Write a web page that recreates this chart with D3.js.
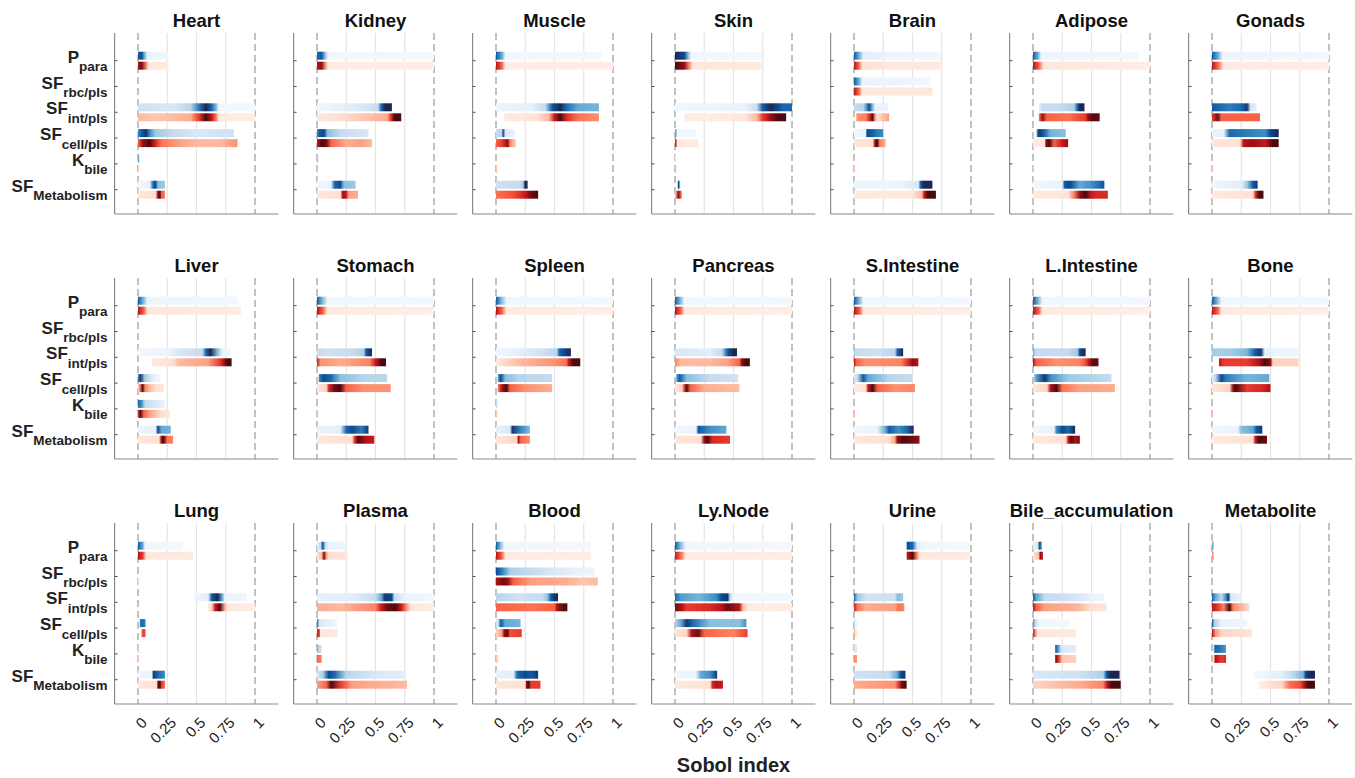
<!DOCTYPE html>
<html>
<head>
<meta charset="utf-8">
<script src="https://cdn.jsdelivr.net/npm/d3@7"></script>
<style>
  body { margin: 0; background: #fff; }
  text { font-family: "Liberation Sans", Arial, Helvetica, sans-serif; }
</style>
</head>
<body>
<svg id="fig" width="1355" height="778"></svg>
<script>
// ---- Parameters (y categories) and x ticks ----
const paramMain = ["P", "SF", "SF", "SF", "K", "SF"];
const paramSub = ["para", "rbc/pls", "int/pls", "cell/pls", "bile", "Metabolism"];
const xTicks = [0, 0.25, 0.5, 0.75, 1];
const xTickLabels = ["0", "0.25", "0.5", "0.75", "1"];

// ---- Sobol index distributions per compartment ----
// Each strip is a list of [sobol index, relative density] stops; null = no strip.
// S1 = first-order (blue), ST = total-order (red); order follows paramSub.
const Heart_S1 = [
  [[0,.8],[0.03,.9],[0.06,.5],[0.08,.1],[0.26,.05]],
  null,
  [[0,.25],[0.3,.2],[0.45,.35],[0.52,.75],[0.58,1],[0.63,.8],[0.67,.5],[0.69,.05],[1,.03]],
  [[0,.7],[0.03,.85],[0.07,.95],[0.1,.7],[0.15,.45],[0.3,.3],[0.5,.2],[0.82,.25]],
  [[0,.6],[0.01,.6]],
  [[0,.05],[0.1,.1],[0.13,.8],[0.15,.9],[0.17,.5],[0.23,.45]]
];
const Heart_ST = [
  [[0,.85],[0.03,.95],[0.07,.5],[0.09,.1],[0.26,.08]],
  null,
  [[0,.3],[0.15,.25],[0.3,.3],[0.45,.35],[0.52,.7],[0.58,1],[0.63,.8],[0.67,.5],[0.69,.08],[1,.06]],
  [[0,.6],[0.04,.9],[0.1,1],[0.14,.8],[0.2,.55],[0.35,.4],[0.5,.3],[0.7,.3],[0.85,.45]],
  [[0,.2],[0.01,.2]],
  [[0,.1],[0.15,.15],[0.17,.9],[0.19,1],[0.2,.6],[0.23,.55]]
];
const Kidney_S1 = [
  [[0,.8],[0.04,.85],[0.08,.3],[0.1,.05],[1,.04]],
  null,
  [[0,.06],[0.2,.12],[0.4,.2],[0.52,.3],[0.55,.8],[0.58,1],[0.64,1]],
  [[0,.7],[0.02,.85],[0.06,.9],[0.09,.5],[0.2,.3],[0.44,.2]],
  [[0,.4],[0.01,.4]],
  [[0,.05],[0.12,.1],[0.15,.8],[0.2,.9],[0.23,.5],[0.33,.45]]
];
const Kidney_ST = [
  [[0,.85],[0.04,.9],[0.08,.3],[0.1,.06],[1,.06]],
  null,
  [[0,.1],[0.2,.15],[0.4,.25],[0.6,.35],[0.63,.7],[0.66,1],[0.72,1]],
  [[0,.8],[0.04,1],[0.08,.95],[0.12,.6],[0.25,.35],[0.38,.4],[0.47,.3]],
  [[0,.25],[0.01,.25]],
  [[0,.1],[0.2,.15],[0.22,.9],[0.25,.8],[0.27,.4],[0.35,.35]]
];
const Muscle_S1 = [
  [[0,.85],[0.05,.6],[0.08,.05],[0.9,.04]],
  null,
  [[0,.08],[0.3,.12],[0.42,.3],[0.48,.85],[0.55,1],[0.6,.8],[0.7,.6],[0.88,.55]],
  [[0,.3],[0.05,.35],[0.06,.95],[0.08,.2],[0.16,.1]],
  null,
  [[0,.25],[0.2,.3],[0.23,.4],[0.25,1],[0.27,1]]
];
const Muscle_ST = [
  [[0,.85],[0.05,.6],[0.08,.05],[0.5,.06],[1,.05]],
  null,
  [[0.07,.08],[0.35,.12],[0.45,.3],[0.5,.8],[0.55,1],[0.6,.75],[0.7,.55],[0.88,.45]],
  [[0,.6],[0.05,.7],[0.1,.9],[0.12,.5],[0.17,.2]],
  [[0,.25],[0.008,.25]],
  [[0,.55],[0.15,.65],[0.25,.8],[0.3,.95],[0.36,1]]
];
const Skin_S1 = [
  [[0,1],[0.08,.9],[0.12,.4],[0.14,.05],[0.74,.04]],
  null,
  [[0,.05],[0.6,.1],[0.7,.3],[0.75,.85],[0.82,1],[0.88,.9],[0.92,.8],[1,.8]],
  [[0,.7],[0.01,.5],[0.02,.05],[0.18,.05]],
  [[0,.15],[0.008,.15]],
  [[0.02,.3],[0.03,.9],[0.045,.3]]
];
const Skin_ST = [
  [[0,1],[0.08,.9],[0.12,.5],[0.15,.1],[0.74,.08]],
  null,
  [[0.08,.05],[0.6,.1],[0.7,.3],[0.75,.7],[0.82,.9],[0.88,1],[0.95,1]],
  [[0,.8],[0.01,.7],[0.02,.08],[0.2,.08]],
  [[0,.3],[0.008,.3]],
  [[0,.2],[0.03,.9],[0.05,.6],[0.06,.3]]
];
const Brain_S1 = [
  [[0,.85],[0.04,.6],[0.08,.15],[0.3,.08],[0.74,.05]],
  [[0,.85],[0.04,.6],[0.07,.1],[0.65,.05]],
  [[0,.3],[0.08,.35],[0.1,.6],[0.13,.9],[0.16,.5],[0.18,.1],[0.29,.1]],
  [[0,.05],[0.1,.1],[0.11,.9],[0.15,.85],[0.2,.75],[0.25,.7]],
  null,
  [[0,.08],[0.4,.08],[0.55,.2],[0.57,.85],[0.6,1],[0.67,1]]
];
const Brain_ST = [
  [[0,.85],[0.04,.6],[0.07,.15],[0.3,.1],[0.75,.08]],
  [[0,.85],[0.04,.6],[0.07,.1],[0.6,.1],[0.67,.12]],
  [[0.02,.45],[0.1,.5],[0.14,.8],[0.16,1],[0.18,.4],[0.2,.15],[0.3,.4]],
  [[0,.1],[0.16,.15],[0.18,.9],[0.2,1],[0.22,.5],[0.27,.35]],
  [[0,.2],[0.008,.2]],
  [[0,.08],[0.5,.1],[0.58,.3],[0.6,.8],[0.63,1],[0.7,1]]
];
const Adipose_S1 = [
  [[0,.85],[0.04,.6],[0.07,.08],[0.9,.04]],
  null,
  [[0.05,.1],[0.08,.3],[0.25,.3],[0.35,.4],[0.38,.8],[0.4,1],[0.44,1]],
  [[0.03,.6],[0.05,.95],[0.1,.8],[0.15,.55],[0.28,.5]],
  null,
  [[0,.06],[0.25,.1],[0.27,.85],[0.32,.9],[0.4,.6],[0.5,.7],[0.6,.85],[0.61,.85]]
];
const Adipose_ST = [
  [[0,.85],[0.05,.6],[0.09,.1],[1,.06]],
  null,
  [[0.05,.5],[0.08,.9],[0.12,.6],[0.3,.55],[0.45,.7],[0.47,.9],[0.52,1],[0.57,.95]],
  [[0,.08],[0.1,.1],[0.11,.9],[0.14,1],[0.18,.6],[0.25,.8],[0.3,.9]],
  [[0,.2],[0.008,.2]],
  [[0,.08],[0.3,.12],[0.35,.5],[0.4,.9],[0.45,1],[0.5,.8],[0.55,.75],[0.64,.75]]
];
const Gonads_S1 = [
  [[0,.85],[0.05,.6],[0.09,.08],[1,.04]],
  null,
  [[0,.85],[0.15,.75],[0.25,.8],[0.3,.95],[0.33,.2],[0.38,.15]],
  [[0,.08],[0.1,.1],[0.15,.8],[0.3,.75],[0.45,.7],[0.5,.9],[0.57,1]],
  null,
  [[0,.06],[0.25,.15],[0.3,.45],[0.35,.85],[0.39,.95]]
];
const Gonads_ST = [
  [[0,.85],[0.05,.6],[0.1,.08],[1,.05]],
  null,
  [[0,.7],[0.05,.95],[0.08,.6],[0.41,.6]],
  [[0,.1],[0.24,.15],[0.27,.85],[0.35,.9],[0.45,.8],[0.52,1],[0.57,1]],
  [[0,.2],[0.008,.2]],
  [[0,.08],[0.35,.15],[0.37,.7],[0.4,1],[0.44,1]]
];
const Liver_S1 = [
  [[0,.85],[0.05,.5],[0.08,.08],[0.85,.04]],
  null,
  [[0,.03],[0.25,.08],[0.35,.2],[0.55,.3],[0.58,.8],[0.62,1],[0.68,.5],[0.72,.1],[0.79,.05]],
  [[0,.7],[0.02,.95],[0.06,.4],[0.14,.1],[0.19,.05]],
  [[0,.8],[0.03,.7],[0.06,.3],[0.23,.08]],
  [[0,.08],[0.15,.12],[0.17,.9],[0.2,.6],[0.28,.55]]
];
const Liver_ST = [
  [[0,.85],[0.05,.6],[0.08,.1],[0.88,.07]],
  null,
  [[0.12,.08],[0.3,.15],[0.35,.3],[0.6,.4],[0.7,.7],[0.74,.9],[0.76,1],[0.8,1]],
  [[0,.1],[0.02,.6],[0.04,1],[0.06,.5],[0.1,.3],[0.15,.15],[0.22,.1]],
  [[0,.7],[0.02,1],[0.05,.6],[0.1,.4],[0.2,.15],[0.27,.1]],
  [[0,.1],[0.18,.15],[0.2,.9],[0.22,1],[0.25,.55],[0.3,.5]]
];
const Stomach_S1 = [
  [[0,.85],[0.05,.5],[0.09,.06],[1,.04]],
  null,
  [[0,.3],[0.1,.25],[0.3,.3],[0.4,.4],[0.42,.85],[0.47,1]],
  [[0.015,.7],[0.05,.9],[0.12,.8],[0.2,.5],[0.4,.35],[0.6,.35]],
  null,
  [[0,.08],[0.2,.15],[0.25,.8],[0.3,.9],[0.38,.75],[0.44,.95]]
];
const Stomach_ST = [
  [[0,.85],[0.05,.6],[0.09,.08],[1,.05]],
  null,
  [[0,.8],[0.03,.45],[0.2,.35],[0.45,.5],[0.5,.8],[0.55,1],[0.59,1]],
  [[0,.1],[0.08,.2],[0.1,.75],[0.15,.95],[0.2,1],[0.25,.6],[0.4,.45],[0.63,.45]],
  [[0,.25],[0.008,.25]],
  [[0,.1],[0.3,.15],[0.32,.7],[0.35,1],[0.42,.85],[0.49,.8]]
];
const Spleen_S1 = [
  [[0,.85],[0.05,.5],[0.09,.06],[1,.04]],
  null,
  [[0,.05],[0.2,.15],[0.4,.25],[0.52,.35],[0.54,.8],[0.58,.9],[0.64,1]],
  [[0.015,.6],[0.04,.9],[0.08,.5],[0.2,.35],[0.48,.3]],
  [[0,.3],[0.006,.3]],
  [[0,.1],[0.12,.2],[0.14,.95],[0.2,.75],[0.29,.5]]
];
const Spleen_ST = [
  [[0,.85],[0.05,.6],[0.09,.08],[1,.05]],
  null,
  [[0,.08],[0.2,.3],[0.5,.45],[0.6,.55],[0.62,.8],[0.66,1],[0.72,1]],
  [[0.015,.5],[0.05,.85],[0.09,1],[0.12,.6],[0.25,.45],[0.48,.35]],
  [[0,.25],[0.006,.25]],
  [[0,.1],[0.18,.2],[0.19,.9],[0.21,.6],[0.29,.45]]
];
const Pancreas_S1 = [
  [[0,.85],[0.05,.5],[0.08,.06],[1,.04]],
  null,
  [[0,.2],[0.3,.15],[0.4,.3],[0.45,.85],[0.5,1],[0.53,1]],
  [[0.01,.6],[0.04,.85],[0.1,.5],[0.3,.3],[0.54,.25]],
  null,
  [[0,.05],[0.18,.1],[0.2,.85],[0.3,.7],[0.44,.6]]
];
const Pancreas_ST = [
  [[0,.85],[0.05,.6],[0.08,.08],[1,.05]],
  null,
  [[0,.5],[0.05,.3],[0.3,.3],[0.45,.4],[0.55,.6],[0.57,.9],[0.6,1],[0.64,1]],
  [[0,.1],[0.06,.2],[0.08,.7],[0.1,1],[0.13,.6],[0.25,.35],[0.55,.3]],
  [[0,.2],[0.006,.2]],
  [[0,.1],[0.22,.15],[0.25,.9],[0.28,1],[0.32,.75],[0.47,.7]]
];
const SIntestine_S1 = [
  [[0,.85],[0.05,.5],[0.08,.06],[1,.04]],
  null,
  [[0,.5],[0.01,.3],[0.2,.25],[0.35,.35],[0.37,.8],[0.42,1]],
  [[0,.2],[0.03,.3],[0.08,.85],[0.12,.6],[0.3,.35],[0.5,.3]],
  null,
  [[0,.05],[0.2,.1],[0.27,.6],[0.3,.85],[0.38,.7],[0.45,.8],[0.51,1]]
];
const SIntestine_ST = [
  [[0,.85],[0.05,.6],[0.08,.08],[1,.05]],
  null,
  [[0,.85],[0.02,.6],[0.1,.45],[0.4,.5],[0.45,.7],[0.5,.9],[0.55,.85]],
  [[0,.08],[0.1,.15],[0.12,.8],[0.16,1],[0.2,.6],[0.35,.45],[0.52,.5]],
  [[0,.25],[0.006,.25]],
  [[0,.1],[0.3,.15],[0.35,.4],[0.37,.9],[0.42,1],[0.5,.95],[0.56,.9]]
];
const LIntestine_S1 = [
  [[0,.85],[0.05,.5],[0.08,.06],[1,.04]],
  null,
  [[0,.6],[0.02,.3],[0.3,.3],[0.38,.45],[0.4,.9],[0.45,1]],
  [[0.01,.5],[0.04,.7],[0.1,.95],[0.15,.7],[0.3,.45],[0.55,.35],[0.67,.3]],
  null,
  [[0,.06],[0.18,.1],[0.2,.7],[0.25,.9],[0.3,.8],[0.36,1]]
];
const LIntestine_ST = [
  [[0,.85],[0.05,.6],[0.08,.08],[1,.05]],
  null,
  [[0,.85],[0.03,.6],[0.2,.45],[0.4,.5],[0.45,.65],[0.48,.85],[0.52,1],[0.56,.95]],
  [[0,.1],[0.12,.2],[0.15,.85],[0.2,1],[0.25,.55],[0.4,.4],[0.7,.35]],
  [[0,.25],[0.006,.25]],
  [[0,.08],[0.28,.15],[0.3,.8],[0.33,1],[0.36,.85],[0.4,.95]]
];
const Bone_S1 = [
  [[0,.85],[0.05,.5],[0.08,.06],[1,.04]],
  null,
  [[0,.45],[0.05,.4],[0.2,.45],[0.3,.55],[0.37,.85],[0.42,.95],[0.45,.15],[0.55,.08],[0.74,.08]],
  [[0,.1],[0.03,.35],[0.08,.9],[0.12,.75],[0.3,.55],[0.49,.6]],
  null,
  [[0,.05],[0.22,.1],[0.25,.5],[0.35,.6],[0.38,.85],[0.43,.95]]
];
const Bone_ST = [
  [[0,.85],[0.05,.6],[0.08,.08],[1,.05]],
  null,
  [[0.06,.85],[0.1,.7],[0.3,.7],[0.4,.85],[0.45,1],[0.5,.9],[0.52,.2],[0.74,.2]],
  [[0,.1],[0.15,.2],[0.18,.9],[0.2,1],[0.3,.7],[0.42,.75],[0.5,.85]],
  [[0,.25],[0.006,.25]],
  [[0,.08],[0.35,.15],[0.37,.8],[0.4,1],[0.47,.95]]
];
const Lung_S1 = [
  [[0,.85],[0.04,.6],[0.06,.05],[0.38,.04]],
  null,
  [[0.48,.05],[0.6,.15],[0.63,.85],[0.68,1],[0.72,.6],[0.74,.1],[0.93,.05]],
  [[0.015,.75],[0.04,.8],[0.065,.7]],
  [[0,.3],[0.006,.3]],
  [[0,.05],[0.12,.1],[0.13,.95],[0.17,.8],[0.23,.7]]
];
const Lung_ST = [
  [[0,.85],[0.04,.7],[0.07,.1],[0.47,.08]],
  [[0,.15],[0.006,.15]],
  [[0.6,.08],[0.63,.2],[0.66,.8],[0.7,1],[0.74,.4],[0.76,.1],[1,.05]],
  [[0.03,.6],[0.05,.7],[0.065,.6]],
  [[0,.2],[0.006,.2]],
  [[0,.1],[0.16,.15],[0.17,.95],[0.19,1],[0.2,.7],[0.23,.6]]
];
const Plasma_S1 = [
  [[0,.1],[0.03,.3],[0.05,.9],[0.07,.3],[0.1,.1],[0.26,.08]],
  null,
  [[0,.12],[0.3,.15],[0.5,.3],[0.55,.6],[0.58,.95],[0.64,.9],[0.66,.3],[0.75,.1],[1,.05]],
  [[0,.85],[0.02,.2],[0.17,.05]],
  [[0,.6],[0.01,.4],[0.04,.2]],
  [[0,.2],[0.05,.4],[0.1,.9],[0.15,.8],[0.25,.35],[0.5,.2],[0.75,.15]]
];
const Plasma_ST = [
  [[0,.1],[0.04,.3],[0.06,.95],[0.08,.4],[0.1,.15],[0.26,.1]],
  null,
  [[0,.35],[0.2,.3],[0.5,.5],[0.55,.8],[0.6,.95],[0.67,1],[0.72,.8],[0.76,.5],[0.8,.1],[1,.06]],
  [[0,.8],[0.02,.7],[0.03,.1],[0.18,.08]],
  [[0,.6],[0.04,.5]],
  [[0,.4],[0.08,.6],[0.12,1],[0.2,.7],[0.3,.4],[0.5,.35],[0.77,.3]]
];
const Blood_S1 = [
  [[0,.85],[0.04,.5],[0.07,.05],[0.81,.04]],
  [[0,.9],[0.05,.75],[0.12,.4],[0.3,.3],[0.5,.2],[0.7,.1],[0.84,.1]],
  [[0,.35],[0.2,.25],[0.4,.3],[0.44,.5],[0.47,.85],[0.5,.95],[0.53,1]],
  [[0,.2],[0.02,.3],[0.04,.85],[0.08,.6],[0.21,.55]],
  [[0,.2],[0.01,.2]],
  [[0,.1],[0.15,.15],[0.18,.8],[0.25,.9],[0.3,.85],[0.36,.95]]
];
const Blood_ST = [
  [[0,.85],[0.05,.6],[0.08,.08],[0.81,.06]],
  [[0,.85],[0.06,.95],[0.1,.9],[0.15,.6],[0.3,.4],[0.6,.35],[0.75,.25],[0.87,.3]],
  [[0,.6],[0.3,.55],[0.5,.6],[0.52,.85],[0.56,.95],[0.6,1],[0.61,1]],
  [[0,.2],[0.05,.4],[0.07,.9],[0.1,.95],[0.12,.65],[0.22,.7]],
  [[0,.25],[0.015,.25]],
  [[0,.1],[0.25,.15],[0.26,.9],[0.28,1],[0.3,.7],[0.38,.7]]
];
const LyNode_S1 = [
  [[0,.85],[0.05,.5],[0.09,.06],[0.3,.05],[1,.04]],
  null,
  [[0,.8],[0.05,.65],[0.2,.55],[0.35,.7],[0.4,.9],[0.45,.95],[0.47,.3],[0.5,.05],[1,.04]],
  [[0,.35],[0.05,.6],[0.1,.95],[0.15,.8],[0.3,.5],[0.55,.5],[0.61,.7]],
  [[0,.3],[0.006,.3]],
  [[0,.05],[0.18,.1],[0.22,.6],[0.3,.7],[0.36,.95]]
];
const LyNode_ST = [
  [[0,.8],[0.06,.5],[0.09,.08],[1,.06]],
  null,
  [[0,.95],[0.06,.85],[0.1,.7],[0.3,.75],[0.4,.85],[0.45,.95],[0.55,.85],[0.58,.3],[0.62,.08],[1,.06]],
  [[0,.1],[0.1,.2],[0.14,.85],[0.2,.95],[0.25,.6],[0.5,.5],[0.62,.7]],
  [[0,.2],[0.006,.2]],
  [[0,.08],[0.3,.15],[0.32,.75],[0.35,.85],[0.41,.8]]
];
const Urine_S1 = [
  [[0.45,.9],[0.5,.8],[0.54,.15],[0.6,.05],[0.99,.04]],
  null,
  [[0,.8],[0.03,.45],[0.1,.25],[0.35,.25],[0.37,.5],[0.42,.45]],
  [[0,.4],[0.01,.1],[0.03,.05]],
  [[0,.2],[0.025,.2]],
  [[0,.25],[0.3,.3],[0.37,.6],[0.4,.9],[0.44,.95]]
];
const Urine_ST = [
  [[0.45,.8],[0.5,1],[0.53,.6],[0.56,.1],[0.99,.07]],
  null,
  [[0,.8],[0.03,.55],[0.1,.35],[0.35,.4],[0.38,.55],[0.43,.5]],
  [[0,.5],[0.01,.1],[0.03,.08]],
  [[0,.45],[0.025,.45]],
  [[0,.35],[0.35,.45],[0.38,.7],[0.41,.95],[0.45,1]]
];
const BileAcc_S1 = [
  [[0,.08],[0.04,.2],[0.055,.85],[0.075,.7]],
  null,
  [[0,.85],[0.03,.6],[0.1,.3],[0.3,.25],[0.4,.2],[0.5,.1],[0.61,.06]],
  [[0,.7],[0.02,.3],[0.05,.05],[0.31,.04]],
  [[0.19,.9],[0.22,.6],[0.24,.2],[0.37,.15]],
  [[0,.2],[0.4,.25],[0.6,.4],[0.63,.85],[0.66,1],[0.74,1]]
];
const BileAcc_ST = [
  [[0,.08],[0.05,.3],[0.06,.9],[0.085,.8]],
  null,
  [[0,.85],[0.03,.6],[0.1,.4],[0.3,.35],[0.4,.3],[0.5,.15],[0.63,.12]],
  [[0,.8],[0.02,.5],[0.04,.1],[0.37,.08]],
  [[0.19,1],[0.22,.7],[0.25,.25],[0.37,.2]],
  [[0,.2],[0.4,.35],[0.6,.5],[0.63,.8],[0.67,1],[0.75,1]]
];
const Metabolite_S1 = [
  [[0,.6],[0.015,.5]],
  null,
  [[0,.85],[0.03,.6],[0.08,.3],[0.12,.7],[0.14,.95],[0.16,.2],[0.25,.1]],
  [[0,.9],[0.02,.4],[0.08,.1],[0.3,.06]],
  [[0.015,.6],[0.03,.8],[0.08,.75],[0.12,.65]],
  [[0.35,.03],[0.6,.15],[0.7,.35],[0.78,.55],[0.8,.9],[0.84,1],[0.88,1]]
];
const Metabolite_ST = [
  [[0,.45],[0.015,.4]],
  null,
  [[0,.85],[0.05,.7],[0.1,.5],[0.15,1],[0.18,.5],[0.32,.15]],
  [[0,.85],[0.03,.45],[0.08,.2],[0.34,.12]],
  [[0.015,.35],[0.03,.85],[0.08,.7],[0.12,.75]],
  [[0.4,.05],[0.6,.2],[0.66,.55],[0.75,.65],[0.79,.85],[0.82,1],[0.88,1]]
];

const panels = [
  {name: "Heart", s1: Heart_S1, st: Heart_ST},
  {name: "Kidney", s1: Kidney_S1, st: Kidney_ST},
  {name: "Muscle", s1: Muscle_S1, st: Muscle_ST},
  {name: "Skin", s1: Skin_S1, st: Skin_ST},
  {name: "Brain", s1: Brain_S1, st: Brain_ST},
  {name: "Adipose", s1: Adipose_S1, st: Adipose_ST},
  {name: "Gonads", s1: Gonads_S1, st: Gonads_ST},
  {name: "Liver", s1: Liver_S1, st: Liver_ST},
  {name: "Stomach", s1: Stomach_S1, st: Stomach_ST},
  {name: "Spleen", s1: Spleen_S1, st: Spleen_ST},
  {name: "Pancreas", s1: Pancreas_S1, st: Pancreas_ST},
  {name: "S.Intestine", s1: SIntestine_S1, st: SIntestine_ST},
  {name: "L.Intestine", s1: LIntestine_S1, st: LIntestine_ST},
  {name: "Bone", s1: Bone_S1, st: Bone_ST},
  {name: "Lung", s1: Lung_S1, st: Lung_ST},
  {name: "Plasma", s1: Plasma_S1, st: Plasma_ST},
  {name: "Blood", s1: Blood_S1, st: Blood_ST},
  {name: "Ly.Node", s1: LyNode_S1, st: LyNode_ST},
  {name: "Urine", s1: Urine_S1, st: Urine_ST},
  {name: "Bile_accumulation", s1: BileAcc_S1, st: BileAcc_ST},
  {name: "Metabolite", s1: Metabolite_S1, st: Metabolite_ST}
];

// ---- Colour maps for density ----
const cmapStops = [0, 0.15, 0.3, 0.45, 0.58, 0.7, 0.8, 0.88, 1];
const blueMap = d3.scaleLinear().domain(cmapStops)
  .range(["#f7fbff", "#e3eef9", "#c6dbef", "#9ecae1", "#6baed6", "#3f8fc5", "#1a68ae", "#08519c", "#1c2553"])
  .interpolate(d3.interpolateRgb).clamp(true);
const redMap = d3.scaleLinear().domain(cmapStops)
  .range(["#fff5f0", "#fee0d2", "#fcbba1", "#fc9272", "#fb6a4a", "#e83a2f", "#c81a1d", "#a50f15", "#4a0a0f"])
  .interpolate(d3.interpolateRgb).clamp(true);

// ---- Layout ----
const nCols = 7;
const PW = 163.8, PH = 181;
const colLeft = c => 114.6 + 179 * c;
const rowTop = r => 33 + 245 * r;
const x = d3.scaleLinear().domain([-0.2, 1.2]).range([0, PW]);
const y = d3.scalePoint().domain(d3.range(paramSub.length)).range([27.7, 156.7]);
const barH = 8;

const svg = d3.select("#fig");
const defs = svg.append("defs");
const axisColor = "#8a8a8a";
const textColor = "#222";

panels.forEach((p, k) => {
  const r = Math.floor(k / nCols), c = k % nCols;
  const g = svg.append("g").attr("transform", `translate(${colLeft(c)},${rowTop(r)})`);

  // grid lines: dashed at 0 and 1, light solid in between
  g.selectAll("line.grid").data(xTicks).join("line")
    .attr("class", "grid")
    .attr("x1", d => x(d)).attr("x2", d => x(d))
    .attr("y1", 0).attr("y2", PH)
    .attr("stroke", d => (d === 0 || d === 1) ? "#a9a9a9" : "#e4e4e4")
    .attr("stroke-width", d => (d === 0 || d === 1) ? 1.4 : 1.2)
    .attr("stroke-dasharray", d => (d === 0 || d === 1) ? "7,4" : null);

  // density strips
  [["s1", blueMap, -barH - 1], ["st", redMap, 1]].forEach(([key, cmap, dy]) => {
    p[key].forEach((strip, i) => {
      if (!strip) return;
      const x0 = strip[0][0], x1 = strip[strip.length - 1][0];
      const id = `grad-${k}-${key}-${i}`;
      const grad = defs.append("linearGradient").attr("id", id)
        .attr("x1", "0%").attr("x2", "100%").attr("y1", "0%").attr("y2", "0%");
      grad.selectAll("stop").data(strip).join("stop")
        .attr("offset", d => x1 > x0 ? (d[0] - x0) / (x1 - x0) : 0)
        .attr("stop-color", d => cmap(d[1]));
      g.append("rect")
        .attr("x", x(x0))
        .attr("y", y(i) + dy)
        .attr("width", Math.max(x(x1) - x(x0), 1.2))
        .attr("height", barH)
        .attr("fill", `url(#${id})`);
    });
  });

  // axes lines
  g.append("line").attr("x1", 0).attr("x2", 0).attr("y1", 0).attr("y2", PH)
    .attr("stroke", axisColor).attr("stroke-width", 1.2);
  g.append("line").attr("x1", 0).attr("x2", PW).attr("y1", PH).attr("y2", PH)
    .attr("stroke", axisColor).attr("stroke-width", 1.2);
  // y ticks (inward)
  g.selectAll("line.yt").data(d3.range(paramSub.length)).join("line")
    .attr("class", "yt")
    .attr("x1", 0).attr("x2", 3).attr("y1", d => y(d)).attr("y2", d => y(d))
    .attr("stroke", "#555").attr("stroke-width", 1);

  // title
  g.append("text")
    .attr("x", x(0.5)).attr("y", -6)
    .attr("text-anchor", "middle")
    .attr("font-size", 18.5).attr("font-weight", "bold")
    .attr("fill", "#111")
    .text(p.name);

  // parameter labels on the first column
  if (c === 0) {
    paramSub.forEach((sub, i) => {
      const t = g.append("text")
        .attr("x", -7).attr("y", y(i) + 2)
        .attr("text-anchor", "end")
        .attr("font-weight", "bold")
        .attr("fill", textColor);
      t.append("tspan").attr("font-size", 17).text(paramMain[i]);
      t.append("tspan").attr("font-size", 13.5).attr("dy", 8.5).text(sub);
    });
  }

  // x tick labels on the bottom row
  if (r === 2) {
    g.selectAll("text.xt").data(xTicks).join("text")
      .attr("class", "xt")
      .attr("transform", (d, j) => `translate(${x(d) + 10},${PH + 19.5}) rotate(-45)`)
      .attr("text-anchor", "end")
      .attr("font-size", 15)
      .attr("fill", textColor)
      .text((d, j) => xTickLabels[j]);
  }
});

// shared x-axis title
svg.append("text")
  .attr("x", colLeft(3) + PW / 2).attr("y", 772)
  .attr("text-anchor", "middle")
  .attr("font-size", 20).attr("font-weight", "bold")
  .attr("fill", textColor)
  .text("Sobol index");
</script>
</body>
</html>
